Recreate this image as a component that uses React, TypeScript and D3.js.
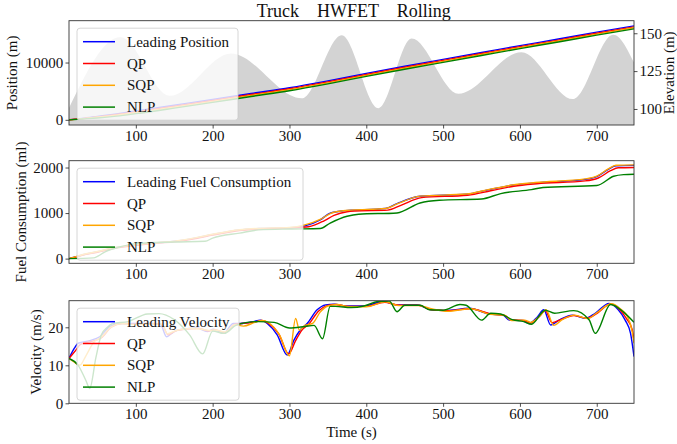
import { useEffect, useRef } from "react";
import * as d3 from "d3";

const W = 677;
const H = 444;
const LEFT = 69;
const RIGHT = 634;
const FONT = "Liberation Serif, Times New Roman, serif";
const X_DOMAIN = [13, 748.5];
const xTicks = [100, 200, 300, 400, 500, 600, 700];

// position (m)
const posTime = [13, 30, 50, 75, 100, 150, 200, 250, 300, 350, 400, 450, 500, 550, 600, 650, 700, 748.5];
const posLeading = [0, 250, 600, 1050, 1550, 2550, 3550, 4600, 5600, 6800, 8100, 9350, 10550, 11750, 12950, 14100, 15300, 16400];
const posQP = [0, 220, 520, 930, 1400, 2380, 3380, 4420, 5420, 6620, 7920, 9170, 10370, 11570, 12770, 13920, 15120, 16220];
const posSQP = [0, 190, 450, 820, 1260, 2220, 3220, 4260, 5260, 6460, 7760, 9010, 10210, 11410, 12610, 13760, 14960, 16060];
const posNLP = [0, 150, 330, 650, 1080, 2040, 3040, 4080, 5080, 6280, 7580, 8830, 10030, 11230, 12430, 13580, 14780, 15880];

// road elevation (m)
const elevTime = [13, 80, 144, 224, 316, 368, 416, 459, 520, 602, 669, 721.5, 748.5];
const elevValue = [100.7, 147.5, 108.7, 136.7, 107, 148.7, 100.5, 146.5, 110, 137.5, 106.5, 149, 130.8];

// fuel consumption (ml), [time, value]
const fuelLeading = [[13, 0], [20, 30], [30, 80], [50, 150], [70, 230], [100, 300], [130, 350], [150, 380], [180, 460], [200, 530], [235, 630], [260, 660], [300, 680], [320, 720], [340, 850], [353, 1000], [370, 1050], [380, 1061], [425, 1099], [440, 1209], [470, 1369], [530, 1413], [560, 1516], [590, 1611], [620, 1662], [685, 1740], [700, 1800], [715, 1960], [725, 2040], [748.5, 2048]];
const fuelQP = [[13, 0], [20, 25], [30, 70], [50, 140], [70, 215], [100, 290], [130, 340], [150, 370], [180, 445], [200, 515], [235, 615], [260, 650], [300, 672], [325, 700], [345, 830], [358, 950], [375, 1030], [385, 1045], [428, 1065], [445, 1170], [472, 1340], [532, 1392], [562, 1490], [592, 1590], [622, 1645], [685, 1706], [702, 1770], [718, 1930], [728, 1995], [748.5, 2002]];
const fuelSQP = [[13, 0], [20, 32], [30, 85], [50, 155], [70, 235], [100, 305], [130, 355], [150, 385], [180, 465], [200, 535], [235, 635], [260, 665], [300, 685], [320, 740], [340, 860], [353, 990], [370, 1050], [380, 1065], [425, 1100], [440, 1200], [470, 1372], [530, 1418], [560, 1520], [590, 1615], [620, 1670], [685, 1750], [700, 1810], [715, 1970], [725, 2050], [748.5, 2058]];
const fuelNLP = [[13, 0], [45, 15], [60, 150], [80, 260], [100, 330], [150, 365], [190, 380], [200, 450], [235, 560], [260, 630], [300, 650], [340, 660], [353, 780], [375, 930], [390, 975], [440, 1003], [470, 1222], [495, 1282], [550, 1310], [575, 1428], [615, 1516], [630, 1560], [700, 1604], [722, 1809], [735, 1845], [748.5, 1853]];

// velocity (m/s), [time, value]
const velLeading = [[13, 11.8], [20, 14.5], [25, 15.8], [40, 16.5], [53, 17.5], [66, 20.2], [80, 21], [100, 21], [120, 21], [132, 20.8], [140, 17.5], [146, 18.3], [152, 19.1], [170, 19.7], [180, 19.8], [193, 18.9], [201, 19.5], [214, 18.4], [227, 21], [236, 21], [253, 21.5], [262, 21.9], [271, 21], [284, 18], [297, 12.7], [306, 16.7], [314, 19.3], [323, 21], [336, 24.6], [347, 25.9], [358, 26.1], [375, 25.6], [397, 25.6], [422, 26.8], [440, 25.9], [466, 25.9], [483, 24.7], [504, 24.4], [534, 25], [560, 23.5], [578, 23.2], [586, 21.9], [603, 21.8], [612, 21], [623, 22.8], [631, 24.6], [640, 20.6], [651, 21.9], [668, 23.2], [685, 22.4], [698, 23.7], [716, 26.3], [728, 24.6], [737, 21.9], [744, 18.4], [748.5, 12.3]];
const velQP = [[13, 11.8], [22, 14], [28, 15.5], [42, 16.3], [55, 17.2], [68, 20], [82, 21], [100, 20.8], [120, 21], [134, 20.7], [142, 18], [148, 18.6], [154, 19.2], [172, 19.6], [182, 19.7], [195, 19], [203, 19.4], [216, 18.6], [229, 20.8], [238, 21], [255, 21.4], [264, 21.8], [273, 21], [286, 18.3], [299, 13], [308, 16.5], [316, 19.2], [325, 20.8], [338, 24.3], [349, 25.7], [360, 26], [377, 25.5], [399, 25.5], [424, 26.6], [442, 25.8], [468, 25.8], [485, 24.6], [506, 24.4], [536, 24.9], [562, 23.5], [580, 23.1], [588, 22], [605, 21.8], [614, 21.1], [625, 22.8], [633, 24.4], [642, 21.2], [653, 22], [670, 23.1], [687, 22.4], [700, 23.6], [718, 26.1], [730, 24.6], [739, 22.2], [746, 19.5], [748.5, 16.5]];
const velSQP = [[13, 11.8], [20, 10.8], [27, 10], [35, 12.5], [45, 16], [55, 17.4], [68, 20.1], [82, 21], [100, 20.7], [120, 20.9], [134, 20.8], [141, 18.3], [148, 18.8], [155, 19.3], [172, 19.7], [182, 19.6], [195, 19.2], [203, 19.3], [216, 18.8], [229, 20.7], [240, 20.3], [255, 21.3], [264, 21.8], [273, 21.2], [287, 18], [300, 12.5], [308, 22.3], [313, 19.2], [320, 20.5], [330, 21], [340, 24], [350, 25.6], [362, 26], [378, 25.4], [400, 25.4], [425, 26.7], [443, 25.7], [468, 25.7], [486, 24.8], [506, 24.2], [536, 24.9], [562, 23.4], [580, 23.2], [589, 21.8], [606, 21.9], [614, 21.3], [626, 23], [634, 24.6], [644, 20.5], [655, 22], [671, 23.2], [688, 22.3], [700, 23.8], [719, 26.2], [731, 24.8], [740, 22.8], [746, 19], [748.5, 15.8]];
const velNLP = [[13, 11.8], [25, 10], [35, 6], [40, 3.9], [48, 12], [55, 18], [63, 20], [70, 21], [90, 21.5], [115, 23.5], [130, 23.6], [150, 22], [170, 18], [187, 13], [200, 19], [215, 18.4], [230, 20.5], [245, 21.3], [260, 21.5], [280, 21.3], [300, 19.8], [320, 20.2], [332, 20.5], [343, 17], [353, 25.5], [360, 25.5], [380, 25.2], [397, 25.6], [415, 26.8], [430, 26.9], [440, 24.1], [450, 25.8], [470, 25.8], [482, 24.6], [500, 24.5], [522, 26], [530, 25.8], [550, 21.9], [562, 23.7], [575, 23.5], [590, 22], [605, 21.5], [615, 20.8], [633, 24.5], [645, 23.7], [670, 24.4], [690, 22], [698, 18.4], [718, 26], [735, 24], [748.5, 21.3]];

const COLORS = { lead: "#0000ff", qp: "#ff0000", sqp: "#ffa500", nlp: "#008000" };

const zip = (t, v) => t.map((d, i) => [d, v[i]]);

const panels = [
  {
    key: "pos",
    top: 20.7,
    bottom: 125,
    yDomain: [-900, 17300],
    yTicks: [0, 10000],
    yLabel: "Position (m)",
    yLabelX: 17,
    legendW: 161,
    series: [
      { name: "Leading Position", color: COLORS.lead, data: zip(posTime, posLeading) },
      { name: "QP", color: COLORS.qp, data: zip(posTime, posQP) },
      { name: "SQP", color: COLORS.sqp, data: zip(posTime, posSQP) },
      { name: "NLP", color: COLORS.nlp, data: zip(posTime, posNLP) },
    ],
    elevation: zip(elevTime, elevValue),
  },
  {
    key: "fuel",
    top: 160.7,
    bottom: 263.3,
    yDomain: [-103, 2150],
    yTicks: [0, 1000, 2000],
    yLabel: "Fuel Consumption (ml)",
    yLabelX: 25.5,
    legendW: 226,
    series: [
      { name: "Leading Fuel Consumption", color: COLORS.lead, data: fuelLeading },
      { name: "QP", color: COLORS.qp, data: fuelQP },
      { name: "SQP", color: COLORS.sqp, data: fuelSQP },
      { name: "NLP", color: COLORS.nlp, data: fuelNLP },
    ],
  },
  {
    key: "vel",
    top: 300.7,
    bottom: 403.3,
    yDomain: [0, 27],
    yTicks: [0, 10, 20],
    yLabel: "Velocity (m/s)",
    yLabelX: 40.5,
    legendW: 162,
    series: [
      { name: "Leading Velocity", color: COLORS.lead, data: velLeading },
      { name: "QP", color: COLORS.qp, data: velQP },
      { name: "SQP", color: COLORS.sqp, data: velSQP },
      { name: "NLP", color: COLORS.nlp, data: velNLP },
    ],
  },
];

function styleAxis(g) {
  g.select(".domain").remove();
  g.attr("font-size", 15).attr("font-family", FONT);
  g.selectAll("line").attr("stroke", "#222").attr("stroke-width", 0.8);
  g.selectAll("text")
    .attr("fill", "#111")
    .style("font-family", FONT)
    .style("font-size", "15px");
}

function Panel({ p }) {
  const gx = useRef(null);
  const gy = useRef(null);
  const gr = useRef(null);
  const x = d3.scaleLinear().domain(X_DOMAIN).range([LEFT, RIGHT]);
  const y = d3.scaleLinear().domain(p.yDomain).range([p.bottom, p.top]);
  const ye = d3.scaleLinear().domain([89.4, 158.3]).range([p.bottom, p.top]);
  const fmt = d3.format("d");

  useEffect(() => {
    d3.select(gx.current)
      .call(d3.axisBottom(x).tickValues(xTicks).tickFormat(fmt).tickSize(3.5).tickPadding(1.5).tickSizeOuter(0))
      .call(styleAxis);
    d3.select(gy.current)
      .call(d3.axisLeft(y).tickValues(p.yTicks).tickFormat(fmt).tickSize(3.5).tickPadding(2.2).tickSizeOuter(0))
      .call(styleAxis);
    if (p.elevation) {
      d3.select(gr.current)
        .call(d3.axisRight(ye).tickValues([100, 125, 150]).tickFormat(fmt).tickSize(3.5).tickPadding(2).tickSizeOuter(0))
        .call(styleAxis);
    }
  });

  const line = d3
    .line()
    .x((d) => x(d[0]))
    .y((d) => y(d[1]))
    .curve(d3.curveMonotoneX);
  const area = d3
    .area()
    .x((d) => x(d[0]))
    .y0(p.bottom)
    .y1((d) => ye(d[1]))
    .curve(d3.curveMonotoneX);

  const lx = 77;
  const ly = p.top + 7.5;
  const mid = (p.top + p.bottom) / 2;

  return (
    <g>
      <clipPath id={`clip-${p.key}`}>
        <rect x={LEFT} y={p.top} width={RIGHT - LEFT} height={p.bottom - p.top} />
      </clipPath>
      <g clipPath={`url(#clip-${p.key})`}>
        {p.elevation && <path d={area(p.elevation)} fill="#d3d3d3" stroke="none" />}
        {p.series.map((s) => (
          <path key={s.name} d={line(s.data)} fill="none" stroke={s.color} strokeWidth={1.4} />
        ))}
      </g>
      <rect
        x={LEFT}
        y={p.top}
        width={RIGHT - LEFT}
        height={p.bottom - p.top}
        fill="none"
        stroke="#333"
        strokeWidth={0.9}
      />
      <g ref={gx} transform={`translate(0,${p.bottom})`} />
      <g ref={gy} transform={`translate(${LEFT},0)`} />
      {p.elevation && <g ref={gr} transform={`translate(${RIGHT},0)`} />}
      <text
        transform={`translate(${p.yLabelX},${mid}) rotate(-90)`}
        textAnchor="middle"
        style={{ fontFamily: FONT, fontSize: "15px" }}
        fill="#111"
      >
        {p.yLabel}
      </text>
      {p.elevation && (
        <text
          transform={`translate(674,${mid}) rotate(-90)`}
          textAnchor="middle"
          style={{ fontFamily: FONT, fontSize: "15px" }}
          fill="#111"
        >
          Elevation (m)
        </text>
      )}
      <rect
        x={lx}
        y={ly}
        width={p.legendW}
        height={92}
        rx={3}
        fill="#ffffff"
        fillOpacity={0.8}
        stroke="#cccccc"
        strokeWidth={0.8}
      />
      {p.series.map((s, i) => {
        const cy = ly + 13.5 + i * 21.8;
        return (
          <g key={s.name}>
            <line x1={lx + 6} x2={lx + 38} y1={cy} y2={cy} stroke={s.color} strokeWidth={1.5} />
            <text x={lx + 50} y={cy + 5} style={{ fontFamily: FONT, fontSize: "15px" }} fill="#111">
              {s.name}
            </text>
          </g>
        );
      })}
    </g>
  );
}

export default function App() {
  return (
    <svg
      width={W}
      height={H}
      style={{ position: "absolute", left: 0, top: 0, background: "#fff" }}
    >
      <rect width={W} height={H} fill="#fff" />
      <text
        x={353.7}
        y={16.5}
        textAnchor="middle"
        style={{ fontFamily: FONT, fontSize: "18px", whiteSpace: "pre" }}
        fill="#111"
      >
        {"Truck    HWFET    Rolling"}
      </text>
      {panels.map((p) => (
        <Panel key={p.key} p={p} />
      ))}
      <text
        x={(LEFT + RIGHT) / 2}
        y={437.3}
        textAnchor="middle"
        style={{ fontFamily: FONT, fontSize: "15px" }}
        fill="#111"
      >
        Time (s)
      </text>
    </svg>
  );
}
